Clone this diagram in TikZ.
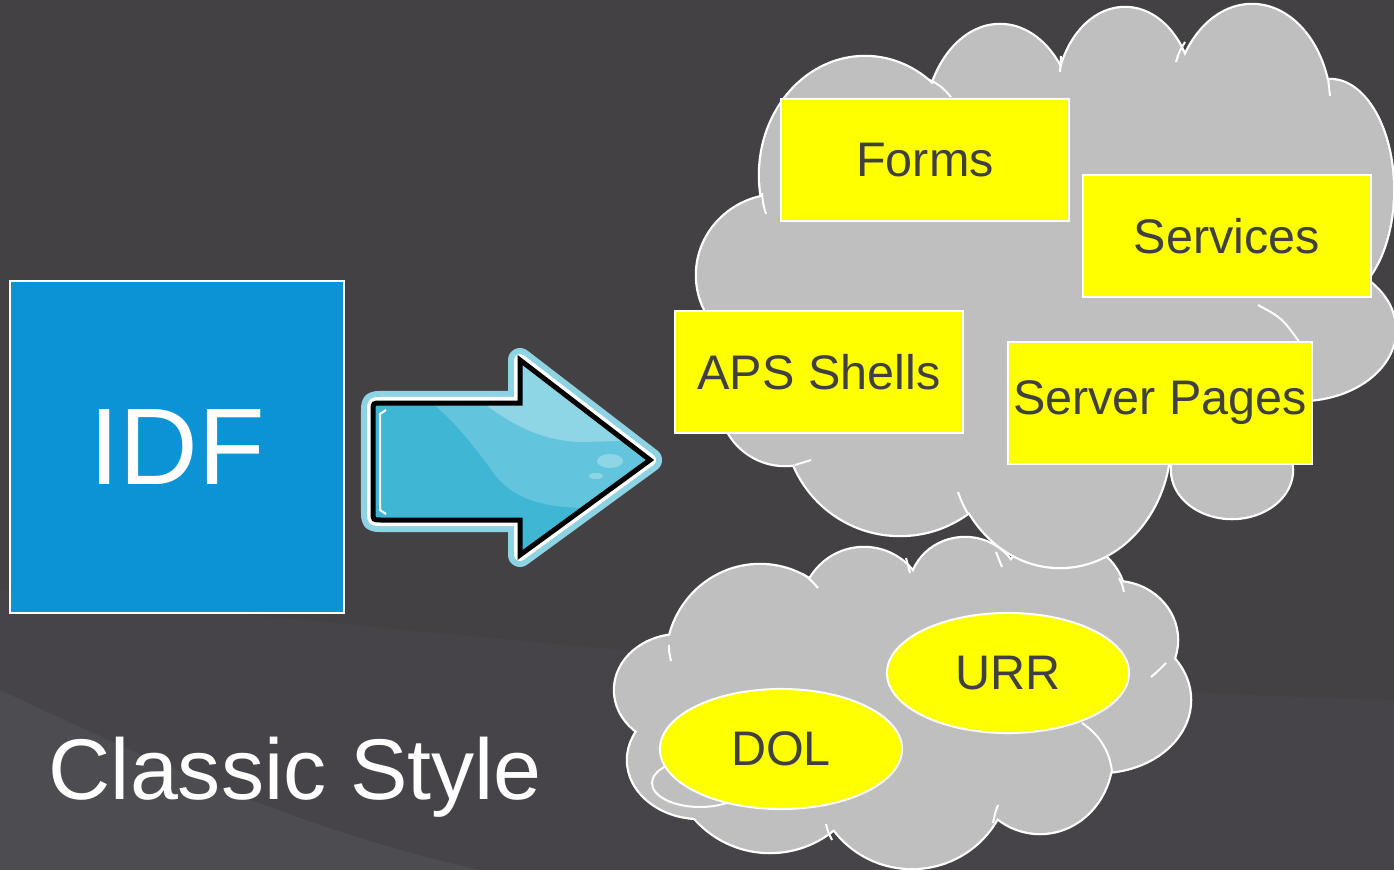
\documentclass[tikz,border=0pt]{standalone}
\usepackage{fontspec}
\setmainfont{Liberation Sans}
\usetikzlibrary{shapes.geometric}
\usepackage{xcolor}

\definecolor{bggray}{RGB}{67,65,68}
\definecolor{bgswoosh}{RGB}{77,76,80}
\definecolor{bgband}{RGB}{70,68,72}
\definecolor{cloudgray}{RGB}{191,191,191}
\definecolor{boxyellow}{RGB}{255,255,0}
\definecolor{boxtext}{RGB}{64,64,64}
\definecolor{idfblue}{RGB}{11,147,213}
\definecolor{arrowglow}{RGB}{142,211,227}
\definecolor{arrowblue}{RGB}{62,182,212}
\definecolor{arrowmid}{RGB}{98,196,221}
\definecolor{arrowlight}{RGB}{142,213,229}

% puffs of the two clouds: x/y/x radius/y radius (pixels)
\def\puffsbig{780/275/83/80, 865/175/105/118, 1000/130/75/105, 1125/100/68/92,
  1252/110/78/105, 1330/190/63/110, 1300/330/95/70, 1232/470/60/48,
  1060/440/110/127, 900/420/115/115, 785/400/65/65}
\def\puffssmall{760/660/93/95, 864/610/62/62, 965/590/55/52, 1060/600/65/60,
  1115/640/62/58, 1100/700/90/72, 1040/755/72/78, 912/772/97/96,
  770/752/100/100, 700/760/72/58, 680/690/65/55}
\def\arrowshape{(520,403) -- (520,360) -- (650,460) -- (520,555) -- (520,520)
  -- (381,520) .. controls (373,520) .. (373,512) -- (373,411)
  .. controls (373,403) .. (381,403) -- cycle}

\begin{document}
\begin{tikzpicture}[x=0.01cm,y=-0.01cm,
  box/.style={draw=white,fill=boxyellow,line width=0.02cm,minimum width=2.88cm,
    minimum height=1.21cm,inner sep=0pt,text=boxtext,font=\fontsize{13.8}{16}\selectfont},
  blob/.style={ellipse,draw=white,fill=boxyellow,line width=0.02cm,minimum width=2.42cm,
    minimum height=1.2cm,inner sep=0pt,text=boxtext,font=\fontsize{13.8}{16}\selectfont},
  puffline/.style={draw=white,line width=0.045cm},
  innerline/.style={draw=white,line width=0.02cm}]
	\useasboundingbox (0,0) rectangle (1394,870);
	% background
	\fill[bggray] (0,0) rectangle (1394,870);
	\fill[bgband] (0,590) .. controls (500,640) and (1000,690) .. (1394,700) -- (1394,870) -- (0,870) -- cycle;
	\fill[bgswoosh] (0,690) .. controls (150,760) and (300,830) .. (480,870) -- (0,870) -- cycle;

	% left block
	\node[draw=white,fill=idfblue,line width=0.02cm,minimum width=3.34cm,minimum height=3.32cm,
	  text=white,font=\fontsize{31}{36}\selectfont] (idf) at (177,447) {IDF};
	\node[anchor=base west,text=white,font=\fontsize{24.5}{30}\selectfont,inner sep=0pt] (style) at (48,799) {Classic Style};

	% block arrow
	\draw[arrowglow,line width=0.24cm,line join=round] \arrowshape;
	\draw[white,line width=0.12cm,line join=round] \arrowshape;
	\fill[arrowblue] \arrowshape;
	\begin{scope}
		\clip \arrowshape;
		\fill[arrowmid] (420,395) .. controls (445,410) and (470,440) .. (495,475)
		  .. controls (515,500) and (545,508) .. (590,508) -- (670,508) -- (670,340) -- (420,340) -- cycle;
		\fill[arrowlight] (472,395) .. controls (500,415) and (530,440) .. (580,442)
		  -- (670,440) -- (670,340) -- (472,340) -- cycle;
		\fill[arrowlight] (610,461) ellipse [x radius=13,y radius=7];
		\fill[arrowlight] (596,476) ellipse [x radius=7,y radius=3];
		\draw[white,line width=0.02cm] (386,410) -- (380,414) -- (380,510) -- (386,514);
	\end{scope}
	\draw[black,line width=0.05cm] \arrowshape;

	% small cloud
	\foreach \cx/\cy/\rx/\ry in \puffssmall
		\draw[puffline] (\cx,\cy) ellipse [x radius=\rx,y radius=\ry];
	\foreach \cx/\cy/\rx/\ry in \puffssmall
		\fill[cloudgray] (\cx,\cy) ellipse [x radius=\rx,y radius=\ry];
	\fill[cloudgray] (900,700) ellipse [x radius=220,y radius=120];
	\draw[innerline] (700,783) ellipse [x radius=48,y radius=24];
	\draw[innerline] (669,645) .. controls (669,652) .. (671,661);
	\draw[innerline] (803,574) .. controls (811,580) .. (818,588);
	\draw[innerline] (906,558) .. controls (908,565) .. (910,573);
	\draw[innerline] (996,552) .. controls (999,559) .. (1002,567);
	\draw[innerline] (1119,578) .. controls (1122,584) .. (1124,592);
	\draw[innerline] (1166,663) .. controls (1158,671) .. (1151,677);
	\draw[innerline] (1082,723) .. controls (1100,735) and (1110,752) .. (1112,772);
	\draw[innerline] (993,823) .. controls (995,813) .. (998,805);
	\draw[innerline] (832,840) .. controls (828,832) .. (826,824);

	% big cloud
	\foreach \cx/\cy/\rx/\ry in \puffsbig
		\draw[puffline] (\cx,\cy) ellipse [x radius=\rx,y radius=\ry];
	\foreach \cx/\cy/\rx/\ry in \puffsbig
		\fill[cloudgray] (\cx,\cy) ellipse [x radius=\rx,y radius=\ry];
	\fill[cloudgray] (1050,280) ellipse [x radius=250,y radius=200];
	\draw[innerline] (762,193) .. controls (763,204) .. (766,214);
	\draw[innerline] (930,80) .. controls (941,86) .. (951,97);
	\draw[innerline] (1060,72) .. controls (1060,64) .. (1061,56);
	\draw[innerline] (1176,62) .. controls (1179,52) .. (1185,42);
	\draw[innerline] (1328,78) .. controls (1329,87) .. (1330,96);
	\draw[innerline] (1258,305) .. controls (1282,318) .. (1300,343);
	\draw[innerline] (958,492) .. controls (962,503) .. (968,514);
	\draw[innerline] (795,465) .. controls (803,463) .. (811,460);

	% boxes
	\node[box] (forms) at (925,160) {Forms};
	\node[box] (services) at (1227,236) {Services};
	\node[box] (shells) at (819,372) {APS Shells};
	\node[box,minimum width=3.03cm] (pages) at (1160,403) {Server Pages};
	\node[blob] (urr) at (1008,673) {URR};
	\node[blob] (dol) at (781,749) {DOL};
\end{tikzpicture}
\end{document}
